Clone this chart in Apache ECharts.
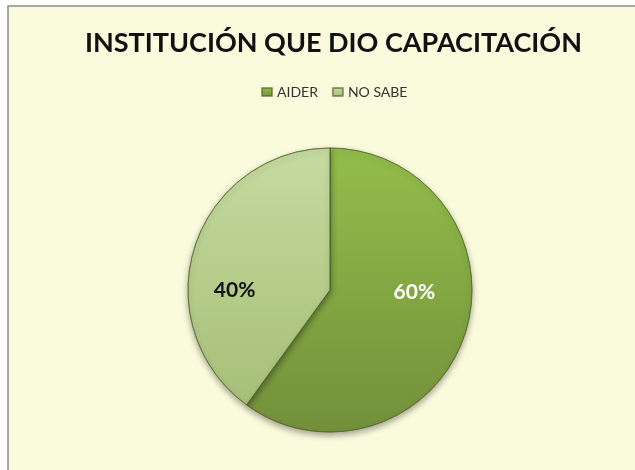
<!DOCTYPE html>
<html>
<head>
<meta charset="utf-8">
<script src="https://cdn.jsdelivr.net/npm/echarts@6/dist/echarts.min.js"></script>
<style>
  html, body { margin: 0; padding: 0; background: #ffffff; }
  #chart { width: 635px; height: 470px; }
</style>
</head>
<body>
<div id="chart"></div>
<script>
// datos del gráfico
var categorias = ['AIDER', 'NO SABE'];
var valores = [60, 40];

var chart = echarts.init(document.getElementById('chart'));

// estilo por porción (colores y posición de etiqueta)
var estilos = [
    {
        color: new echarts.graphic.LinearGradient(0, 0, 0, 1, [
            { offset: 0, color: '#93BE4B' },
            { offset: 1, color: '#73903A' }
        ]),
        label: { color: '#ffffff', offset: [14, -21] }
    },
    {
        color: new echarts.graphic.LinearGradient(0, 0, 0, 1, [
            { offset: 0, color: '#C6DBA0' },
            { offset: 1, color: '#A6BF78' }
        ]),
        label: { color: '#111111', offset: [-25, 23] }
    }
];

var datos = categorias.map(function (c, i) {
    return {
        name: c,
        value: valores[i],
        itemStyle: { color: estilos[i].color },
        label: estilos[i].label
    };
});

option = {
    backgroundColor: '#ffffff',
    graphic: [{
        type: 'rect',
        shape: { x: 8, y: 6, width: 640, height: 480 },
        style: { fill: '#FAFADC', stroke: '#8a8a8a', lineWidth: 1.5 },
        z: -10
    }],
    title: {
        text: 'INSTITUCIÓN QUE DIO CAPACITACIÓN',
        left: 80,
        top: 25,
        textStyle: {
            fontFamily: 'Lato',
            fontSize: 27,
            fontWeight: 'bold',
            color: '#111111'
        }
    },
    legend: {
        data: categorias,
        top: 80,
        left: 256,
        itemWidth: 10,
        itemHeight: 8,
        itemGap: 14,
        icon: 'rect',
        textStyle: {
            fontFamily: 'Lato',
            fontSize: 14,
            color: '#333333'
        }
    },
    series: [
        {
            name: 'Institución',
            type: 'pie',
            center: [330, 290],
            radius: 142,
            startAngle: 90,
            clockwise: true,
            silent: true,
            itemStyle: {
                borderColor: 'rgba(80,100,40,0.6)',
                borderWidth: 1,
                shadowBlur: 6,
                shadowOffsetY: 3,
                shadowColor: 'rgba(0,0,0,0.35)'
            },
            label: {
                show: true,
                position: 'inside',
                formatter: '{d}%',
                fontFamily: 'Lato',
                fontSize: 21,
                fontWeight: 'bold'
            },
            labelLine: { show: false },
            data: datos
        }
    ]
};

chart.setOption(option);
</script>
</body>
</html>
